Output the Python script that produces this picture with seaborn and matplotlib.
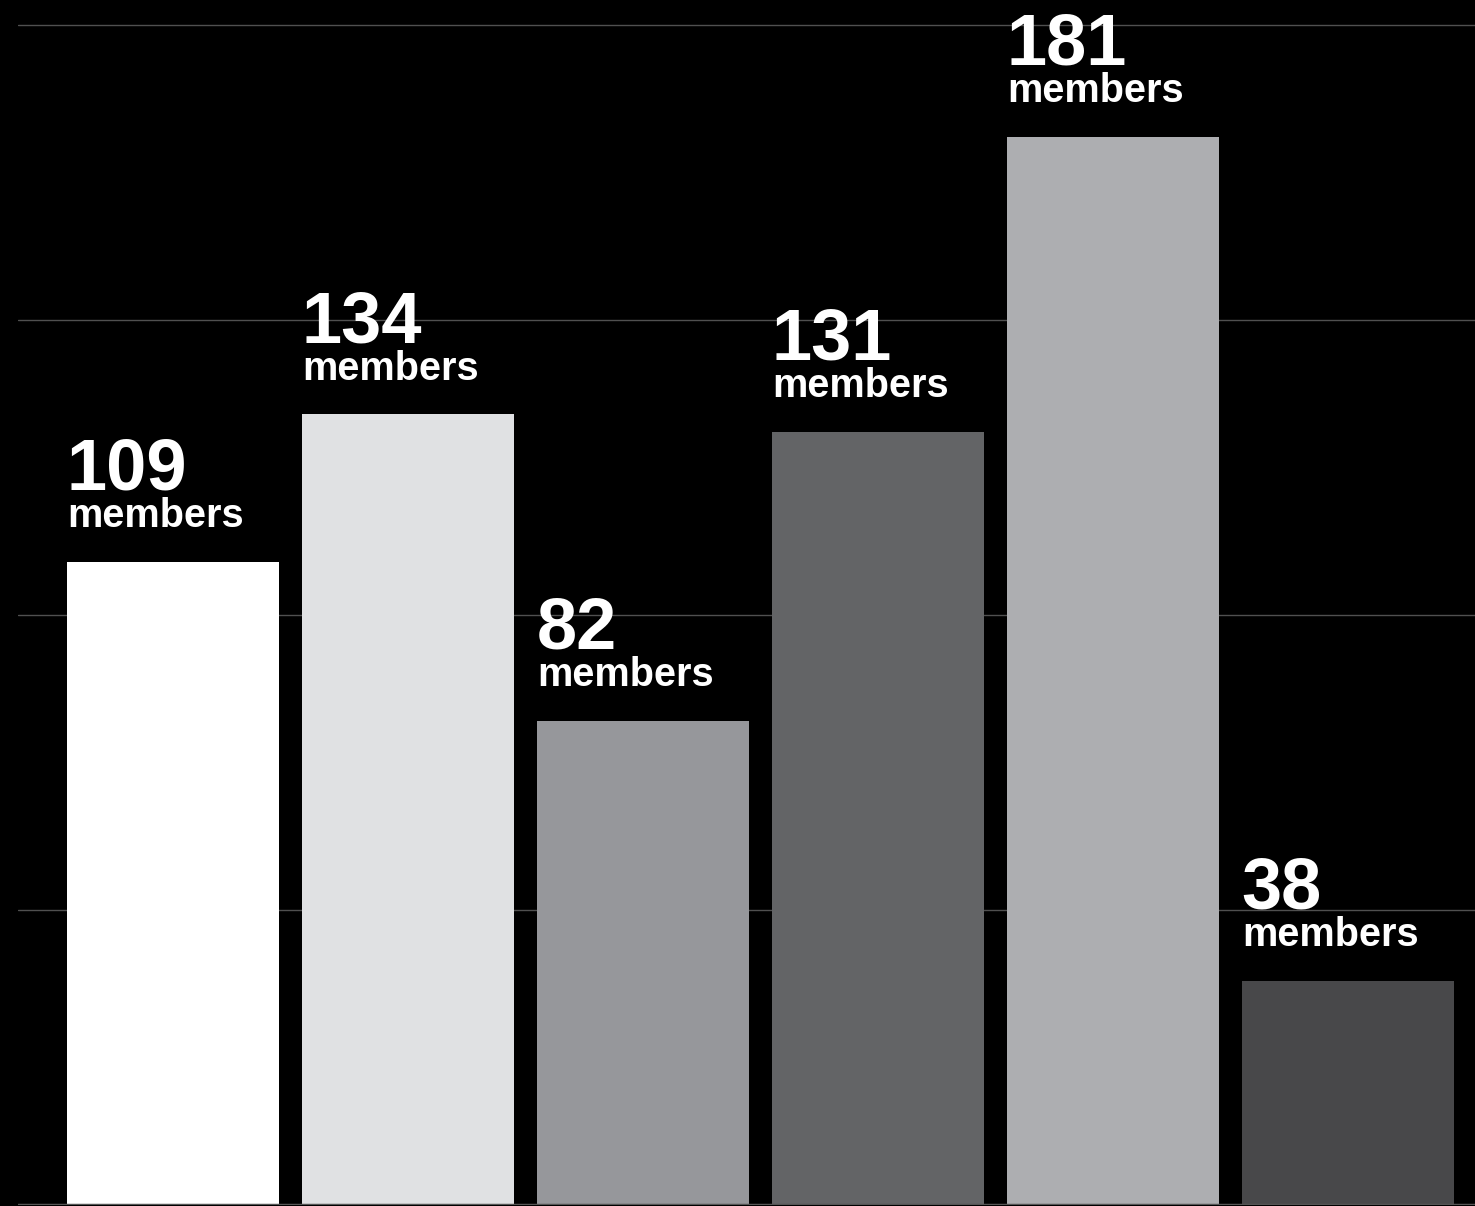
import matplotlib
matplotlib.use("Agg")
import matplotlib.pyplot as plt
import seaborn as sns
import pandas as pd

categories = ["A", "B", "C", "D", "E", "F"]
values = [109, 134, 82, 131, 181, 38]
colors = ["#ffffff", "#e0e1e3", "#96979b", "#636466", "#adaeb1", "#48484a"]
grid_values = [50, 100, 150, 200]

sns.set_theme(style="dark")
plt.rcParams['font.family'] = ['Liberation Sans', 'DejaVu Sans']

fig = plt.figure(figsize=(14.75, 12.06), dpi=100, facecolor="black")
ax = fig.add_axes([18/1475, 1/1206, 1457/1475, 1205/1206])
ax.set_facecolor("black")

df = pd.DataFrame({"cat": categories, "val": values})
sns.barplot(data=df, x="cat", y="val", hue="cat", palette=colors, width=0.9,
            legend=False, ax=ax, saturation=1, edgecolor="none", linewidth=0)

ax.set_xlim(-0.66, 5.54)
ax.set_ylim(0, 204.2)
ax.grid(False)
for g in grid_values:
    ax.axhline(g, color="#505050", lw=1.0, zorder=0)
ax.axhline(0, color="#555555", lw=2.5, zorder=3)
ax.set_xticks([])
ax.set_yticks([])
ax.set_xlabel("")
ax.set_ylabel("")
for s in ax.spines.values():
    s.set_visible(False)

for i, v in enumerate(values):
    left = i - 0.45
    ax.annotate(f"{v}", xy=(left, v), xytext=(-0.5, 52), textcoords="offset points",
                ha="left", va="baseline", color="white", fontsize=52,
                fontweight="bold", zorder=5)
    ax.annotate("members", xy=(left, v), xytext=(0, 25), textcoords="offset points",
                ha="left", va="baseline", color="white", fontsize=28.5,
                fontweight="bold", zorder=5)

fig.savefig("out.png", dpi=100, facecolor="black")
